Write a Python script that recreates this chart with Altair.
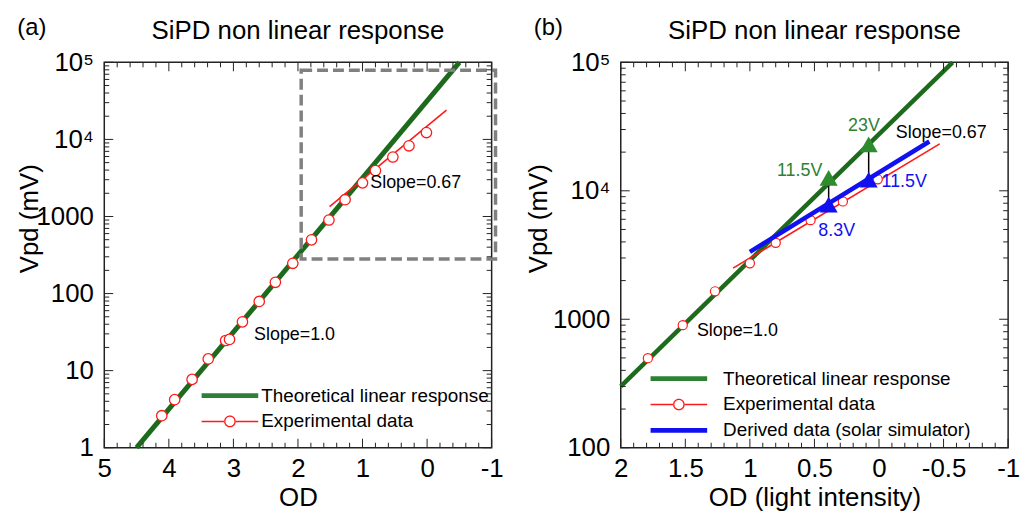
import altair as alt
import pandas as pd

FONT = "Liberation Sans"

# ---------------- data ----------------
od_exp = [4.11, 3.91, 3.64, 3.39, 3.12, 3.06, 2.86, 2.60, 2.35, 2.08,
          1.79, 1.52, 1.27, 1.00, 0.80, 0.53, 0.28, 0.01]
v_exp = [2.6, 4.2, 7.7, 14.2, 24.6, 25.4, 43, 79, 140, 247,
         498, 900, 1650, 2730, 3940, 5910, 8270, 12280]

# panel (a)
theory_a_od = [4.5, -0.5]
theory_a_v = [1, 100000]
fit_a_od = [1.51, -0.30]
fit_a_v = [1340, 24000]
box_a_od = [1.95, -1.06]
box_a_v = [280, 79000]

# panel (b)
theory_b_od = [2.0, -0.57]
theory_b_v = [300, 100000]
fit_b_od = [1.13, -0.47]
fit_b_v = [2500, 23200]
derived_od = [1.0, -0.39]
derived_v = [3350, 24200]
tri_od = [0.39, 0.08]
tri_green_v = [12600, 23000]
tri_blue_v = [7800, 12200]

series_a = ["Theoretical linear response", "Experimental data"]
series_b = ["Theoretical linear response", "Experimental data",
            "Derived data (solar simulator)"]

ann_a_text = ["Slope=0.67", "Slope=1.0"]
ann_a_od = [0.88, 2.68]
ann_a_v = [2680, 29.4]
ann_a_col = ["black", "black"]

ann_b_text = ["11.5V", "23V", "11.5V", "8.3V", "Slope=0.67", "Slope=1.0"]
ann_b_od = [0.79, 0.24, -0.02, 0.47, -0.13, 1.41]
ann_b_v = [14260, 31700, 11720, 4900, 28000, 813]
ann_b_col = ["#2e8032", "#2e8032", "#1010f0", "#1010f0", "black", "black"]

# axis ticks
xa_major = [5, 4, 3, 2, 1, 0, -1]
xa_minor = [round(-1 + 0.2 * i, 2) for i in range(31) if i % 5 != 0]
xb_major = [2, 1.5, 1, 0.5, 0, -0.5, -1]
xb_minor = [round(-1 + 0.1 * i, 2) for i in range(31) if i % 5 != 0]
ya_major = [1, 10, 100, 1000, 10000, 100000]
ya_minor = [m * 10 ** k for k in range(0, 5) for m in range(2, 10)]
yb_major = [100, 1000, 10000, 100000]
yb_minor = [m * 10 ** k for k in range(2, 5) for m in range(2, 10)]

W, H = 390, 388
GREEN = "#1d6a1d"
LEG_GREEN = "#2e8032"
RED = "#ff1a1a"
BLUE = "#1010f0"
FRAME = "#222222"

# legend symbols as filled outlines (unit = 9.5 px at symbolSize 361)
THICK_SYM = "M-3,-0.25H3V0.25H-3Z"
CIRC_SYM = ("M-3,-0.08H-0.6V0.08H-3Z M0.6,-0.08H3V0.08H0.6Z "
            "M0.62,0A0.62,0.62 0 1,0 -0.62,0A0.62,0.62 0 1,0 0.62,0Z "
            "M0.48,0A0.48,0.48 0 1,1 -0.48,0A0.48,0.48 0 1,1 0.48,0Z")


def make_axes(xmajor, ymajor, xtitle, ytitle_x):
    ax_x = alt.Axis(
        values=xmajor, labelExpr="datum.value + ''", ticks=False, domain=False,
        grid=False, labelFont=FONT, labelFontSize=26, labelColor="black",
        labelPadding=8, labelFlush=False, labelOverlap=False,
        title=xtitle, titleFont=FONT, titleFontSize=26, titleFontWeight="normal",
        titleColor="black", titlePadding=3)
    ax_y = alt.Axis(
        values=ymajor,
        labelExpr="datum.value == 100000 ? '10\u2075' : datum.value == 10000 ? '10\u2074' : datum.value + ''",
        ticks=False, domain=False, grid=False, labelFont=FONT, labelFontSize=26,
        labelColor="black", labelPadding=11, labelFlush=False, labelOverlap=False,
        title="Vpd (mV)", titleFont=FONT, titleFontSize=26, titleFontWeight="normal",
        titleColor="black", titleX=ytitle_x, titleY=157, titleAngle=270,
        titleBaseline="bottom", titleAlign="center")
    return ax_x, ax_y


class Enc:
    def __init__(self, xs, ys, ax_x, ax_y):
        self.xs, self.ys, self.ax_x, self.ax_y = xs, ys, ax_x, ax_y

    def X(self, f):
        return alt.X(f + ":Q", scale=self.xs, axis=self.ax_x)

    def Y(self, f):
        return alt.Y(f + ":Q", scale=self.ys, axis=self.ax_y)


def tick_layers(e, xmajor, xminor, ymajor, yminor):
    layers = []
    for vals, ln in ((xmajor, 9), (xminor, 5)):
        df = pd.DataFrame({"od": vals})
        for y0, y1 in ((H, H - ln), (0, ln)):
            layers.append(alt.Chart(df).mark_rule(color=FRAME, strokeWidth=1).encode(
                x=e.X("od"), y=alt.value(y0), y2=alt.value(y1)))
    for vals, ln in ((ymajor, 9), (yminor, 5)):
        df = pd.DataFrame({"v": vals})
        for x0, x1 in ((0, ln), (W, W - ln)):
            layers.append(alt.Chart(df).mark_rule(color=FRAME, strokeWidth=1).encode(
                y=e.Y("v"), x=alt.value(x0), x2=alt.value(x1)))
    return layers


def legend_layer(series, colors, shapes, lx, ly, loff):
    leg = alt.Legend(orient="none", legendX=lx, legendY=ly, title=None,
                     labelFont=FONT, labelFontSize=19, labelColor="black",
                     labelLimit=600, labelOffset=loff, rowPadding=6,
                     padding=0, symbolOpacity=1, symbolSize=361,
                     symbolStrokeWidth=0)
    df = pd.DataFrame({"series": series})
    return alt.Chart(df).mark_point(filled=True, opacity=0, size=361).encode(
        x=alt.value(0), y=alt.value(0),
        color=alt.Color("series:N", scale=alt.Scale(domain=series, range=colors), legend=leg),
        shape=alt.Shape("series:N", scale=alt.Scale(domain=series, range=shapes), legend=leg),
    )


def letter_layer(txt):
    return alt.Chart(pd.DataFrame({"t": [txt]})).mark_text(
        font=FONT, fontSize=24, align="center", baseline="middle", color="black"
    ).encode(text="t:N", x=alt.value(-73), y=alt.value(-35))


def ann_layer(e, texts, ods, vs, cols, size=18):
    df = pd.DataFrame({"t": texts, "od": ods, "v": vs, "c": cols})
    return alt.Chart(df).mark_text(font=FONT, fontSize=size, align="left",
                                   baseline="middle").encode(
        x=e.X("od"), y=e.Y("v"), text="t:N", color=alt.Color("c:N", scale=None))


TITLE = dict(text="SiPD non linear response", font=FONT, fontSize=26,
             fontWeight="normal", color="black", anchor="middle", frame="group",
             offset=-29)
VIEW = alt.ViewBackground(stroke=FRAME, strokeWidth=1.5)

# ---------------- panel (a) ----------------
xs_a = alt.Scale(domain=[-1, 5], reverse=True, nice=False, zero=False)
ys_a = alt.Scale(type="log", domain=[1, 100000], nice=False)
ea = Enc(xs_a, ys_a, *make_axes(xa_major, ya_major, "OD", -62))

theory_a = alt.Chart(pd.DataFrame({"od": theory_a_od, "v": theory_a_v})).mark_line(
    color=GREEN, strokeWidth=5).encode(x=ea.X("od"), y=ea.Y("v"))
box_a = alt.Chart(pd.DataFrame({"od": [box_a_od[0]], "od2": [box_a_od[1]],
                                "v": [box_a_v[0]], "v2": [box_a_v[1]]})).mark_rect(
    fillOpacity=0, stroke="#808080", strokeWidth=3.5, strokeDash=[11, 5]).encode(
    x=ea.X("od"), x2="od2:Q", y=ea.Y("v"), y2="v2:Q")
fit_a = alt.Chart(pd.DataFrame({"od": fit_a_od, "v": fit_a_v})).mark_line(
    color=RED, strokeWidth=1.6).encode(x=ea.X("od"), y=ea.Y("v"))
pts_a = alt.Chart(pd.DataFrame({"od": od_exp, "v": v_exp})).mark_point(
    shape="circle", filled=True, fill="white", stroke=RED, strokeWidth=1.3,
    size=110, opacity=1).encode(x=ea.X("od"), y=ea.Y("v"))

panel_a = alt.layer(
    theory_a, box_a, fit_a, pts_a,
    *tick_layers(ea, xa_major, xa_minor, ya_major, ya_minor),
    ann_layer(ea, ann_a_text, ann_a_od, ann_a_v, ann_a_col),
    legend_layer(series_a, [LEG_GREEN, RED], [THICK_SYM, CIRC_SYM], 117, 326, 22),
    letter_layer("(a)"),
).properties(width=W, height=H, title=alt.TitleParams(**TITLE), view=VIEW)

# ---------------- panel (b) ----------------
xs_b = alt.Scale(domain=[-1, 2], reverse=True, nice=False, zero=False)
ys_b = alt.Scale(type="log", domain=[100, 100000], nice=False)
eb = Enc(xs_b, ys_b, *make_axes(xb_major, yb_major, "OD (light intensity)", -70))

df_exp_b = pd.DataFrame({"od": od_exp, "v": v_exp})
df_exp_b = df_exp_b[df_exp_b["od"] <= 2]

theory_b = alt.Chart(pd.DataFrame({"od": theory_b_od, "v": theory_b_v})).mark_line(
    color=GREEN, strokeWidth=4.5).encode(x=eb.X("od"), y=eb.Y("v"))
fit_b = alt.Chart(pd.DataFrame({"od": fit_b_od, "v": fit_b_v})).mark_line(
    color=RED, strokeWidth=1.6).encode(x=eb.X("od"), y=eb.Y("v"))
pts_b = alt.Chart(df_exp_b).mark_point(
    shape="circle", filled=True, fill="white", stroke=RED, strokeWidth=1.2,
    size=85, opacity=1).encode(x=eb.X("od"), y=eb.Y("v"))
der_b = alt.Chart(pd.DataFrame({"od": derived_od, "v": derived_v})).mark_line(
    color=BLUE, strokeWidth=4.5).encode(x=eb.X("od"), y=eb.Y("v"))
tri_df = pd.DataFrame({"od": tri_od, "vg": tri_green_v, "vb": tri_blue_v})
conn_b = alt.Chart(tri_df).mark_rule(color="black", strokeWidth=1.5).encode(
    x=eb.X("od"), y=eb.Y("vb"), y2="vg:Q")
trig_b = alt.Chart(tri_df).mark_point(shape="triangle-up", filled=True, color="#2e8b2e",
                                      size=330, opacity=1).encode(x=eb.X("od"), y=eb.Y("vg"))
trib_b = alt.Chart(tri_df).mark_point(shape="triangle-up", filled=True, color=BLUE,
                                      size=330, opacity=1).encode(x=eb.X("od"), y=eb.Y("vb"))

panel_b = alt.layer(
    theory_b, fit_b, pts_b, der_b, conn_b, trig_b, trib_b,
    *tick_layers(eb, xb_major, xb_minor, yb_major, yb_minor),
    ann_layer(eb, ann_b_text, ann_b_od, ann_b_v, ann_b_col),
    legend_layer(series_b, [LEG_GREEN, RED, BLUE], [THICK_SYM, CIRC_SYM, THICK_SYM],
                 49, 309, 35),
    letter_layer("(b)"),
).properties(width=W, height=H, title=alt.TitleParams(**TITLE), view=VIEW)

chart = alt.hconcat(panel_a, panel_b, spacing=20).resolve_scale(
    x="independent", y="independent", color="independent", shape="independent"
).configure(
    padding={"left": 16, "top": 13, "right": 5, "bottom": 5},
    background="white"
).configure_view(stroke=FRAME, strokeWidth=1.5)

chart.save("out.html", embed_options={"renderer": "svg", "actions": False})
